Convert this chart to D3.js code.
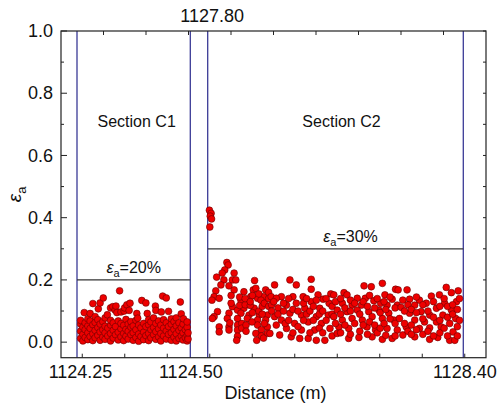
<!DOCTYPE html>
<html>
<head>
<meta charset="utf-8">
<script src="https://cdn.jsdelivr.net/npm/d3@7"></script>
<style>
  body { margin: 0; background: #fff; }
  svg text { font-family: Arial, "Liberation Sans", sans-serif; fill: #111; }
</style>
</head>
<body>
<div id="chart"></div>
<script>
// tick labels on the (broken) distance axis
const bottomLabels = [1124.25, 1124.50, 1128.40];
const topLabels = [1127.80];
const yLabels = [0, 0.2, 0.4, 0.6, 0.8, 1.0];
// section boundaries (m) and strain limits
const sections = [
  { name: 'Section C1', start: 1124.25, end: 1124.50, limit: 0.2, limitText: '=20%' },
  { name: 'Section C2', start: 1127.80, end: 1128.40, limit: 0.3, limitText: '=30%' }
];

// [distance (m), strain]
const c1Points = [
  [1124.258,0.012],[1124.258,0.035],[1124.258,0.058],[1124.258,0.070],
  [1124.263,0.004],[1124.263,0.025],[1124.263,0.048],
  [1124.268,0.015],[1124.268,0.040],[1124.268,0.062],[1124.266,0.095],
  [1124.274,0.008],[1124.274,0.030],[1124.274,0.052],[1124.274,0.075],
  [1124.279,0.018],[1124.279,0.044],[1124.279,0.068],[1124.279,0.092],
  [1124.285,0.005],[1124.285,0.027],[1124.285,0.056],[1124.285,0.124],
  [1124.290,0.014],[1124.290,0.038],[1124.290,0.063],[1124.290,0.082],
  [1124.296,0.022],[1124.296,0.047],[1124.296,0.072],[1124.297,0.107],
  [1124.301,0.006],[1124.301,0.033],[1124.301,0.058],[1124.301,0.126],
  [1124.307,0.016],[1124.307,0.040],[1124.307,0.066],[1124.308,0.142],
  [1124.312,0.009],[1124.312,0.030],[1124.312,0.051],[1124.312,0.078],
  [1124.318,0.020],[1124.318,0.045],[1124.317,0.088],
  [1124.324,0.004],[1124.324,0.028],[1124.324,0.055],[1124.324,0.070],[1124.324,0.110],
  [1124.330,0.013],[1124.330,0.038],[1124.330,0.062],[1124.329,0.114],
  [1124.335,0.024],[1124.335,0.050],[1124.334,0.103],[1124.336,0.116],
  [1124.341,0.007],[1124.341,0.032],[1124.341,0.068],[1124.338,0.095],
  [1124.344,0.165],
  [1124.347,0.017],[1124.347,0.043],[1124.347,0.060],[1124.347,0.097],
  [1124.353,0.005],[1124.353,0.028],[1124.353,0.054],[1124.354,0.100],
  [1124.358,0.019],[1124.358,0.041],[1124.358,0.073],[1124.355,0.110],
  [1124.363,0.010],[1124.363,0.035],[1124.363,0.058],[1124.360,0.120],
  [1124.369,0.024],[1124.369,0.048],[1124.369,0.066],[1124.365,0.102],
  [1124.374,0.006],[1124.374,0.030],[1124.374,0.052],[1124.367,0.125],
  [1124.380,0.015],[1124.380,0.040],[1124.380,0.070],
  [1124.386,0.003],[1124.386,0.026],[1124.386,0.055],[1124.382,0.092],
  [1124.391,0.018],[1124.391,0.046],[1124.384,0.077],[1124.393,0.134],
  [1124.397,0.008],[1124.397,0.032],[1124.397,0.060],[1124.402,0.126],
  [1124.402,0.021],[1124.402,0.050],[1124.405,0.092],
  [1124.408,0.005],[1124.408,0.028],[1124.408,0.056],[1124.408,0.072],
  [1124.413,0.014],[1124.413,0.040],[1124.413,0.065],[1124.423,0.116],
  [1124.419,0.024],[1124.419,0.047],[1124.419,0.078],
  [1124.424,0.009],[1124.424,0.034],[1124.424,0.060],[1124.424,0.102],
  [1124.430,0.017],[1124.430,0.043],[1124.430,0.068],
  [1124.435,0.004],[1124.435,0.028],[1124.435,0.055],[1124.436,0.097],
  [1124.439,0.148],[1124.447,0.142],
  [1124.441,0.020],[1124.441,0.045],[1124.441,0.072],
  [1124.447,0.010],[1124.447,0.036],[1124.447,0.062],
  [1124.452,0.025],[1124.452,0.050],[1124.452,0.099],
  [1124.458,0.006],[1124.458,0.030],[1124.458,0.058],[1124.458,0.075],
  [1124.464,0.016],[1124.464,0.041],[1124.464,0.066],
  [1124.469,0.004],[1124.469,0.027],[1124.469,0.052],[1124.469,0.078],
  [1124.475,0.012],[1124.475,0.038],[1124.475,0.062],
  [1124.480,0.020],[1124.480,0.046],[1124.478,0.129],
  [1124.484,0.007],[1124.484,0.030],[1124.484,0.058],[1124.480,0.091],
  [1124.489,0.014],[1124.489,0.040],[1124.485,0.075],
  [1124.493,0.004],[1124.493,0.022],[1124.493,0.048],[1124.493,0.065],
  [1124.495,0.010],[1124.495,0.030]
];

const c2Points = [
  [1127.804,0.424],[1127.808,0.414],[1127.806,0.405],[1127.809,0.396],[1127.805,0.370],
  [1127.845,0.256],[1127.848,0.248],[1127.840,0.232],[1127.862,0.222],[1127.834,0.222],
  [1127.821,0.209],[1127.838,0.200],[1127.858,0.200],[1127.866,0.200],[1127.910,0.198],
  [1127.831,0.184],[1127.850,0.181],[1127.862,0.168],[1127.819,0.165],[1127.885,0.162],
  [1127.907,0.168],[1127.913,0.173],[1127.936,0.168],[1127.815,0.146],[1127.827,0.141],
  [1127.901,0.146],[1127.917,0.141],[1127.931,0.146],[1127.878,0.135],[1127.893,0.130],
  [1127.925,0.135],[1127.810,0.135],[1127.858,0.114],[1127.870,0.103],[1127.885,0.109],
  [1127.909,0.109],[1127.823,0.098],[1127.815,0.082],[1127.850,0.093],[1127.878,0.093],
  [1127.897,0.087],[1127.921,0.087],[1127.940,0.087],[1127.846,0.076],[1127.870,0.076],
  [1127.893,0.076],[1127.917,0.071],[1127.936,0.071],[1127.811,0.076],[1127.827,0.049],
  [1127.850,0.049],[1127.870,0.055],[1127.917,0.055],[1127.940,0.049],[1127.827,0.033],
  [1127.850,0.039],[1127.870,0.039],[1127.870,0.019],[1127.868,0.006],[1127.913,0.028],
  [1127.915,0.006],[1127.940,0.028],
  [1127.855,0.125],[1127.855,0.150],[1127.875,0.118],[1127.875,0.145],[1127.888,0.120],
  [1127.888,0.140],[1127.900,0.118],[1127.900,0.130],[1127.905,0.095],[1127.905,0.150],
  [1127.920,0.100],[1127.920,0.155],[1127.928,0.115],[1127.928,0.090],[1127.933,0.125],
  [1127.933,0.060],[1127.943,0.115],[1127.943,0.140],[1127.943,0.160],[1127.852,0.062],
  [1127.880,0.060],[1127.880,0.045],[1127.890,0.055],[1127.890,0.035],[1127.904,0.065],
  [1127.926,0.040],[1127.926,0.020],[1127.931,0.013],
  [1127.993,0.200],[1128.008,0.184],[1128.043,0.202],[1128.043,0.170],[1127.957,0.184],
  [1128.024,0.146],[1128.000,0.146],[1127.973,0.146],[1128.059,0.152],[1128.089,0.155],
  [1128.071,0.138],[1127.949,0.146],[1127.961,0.141],[1128.043,0.130],[1128.008,0.125],
  [1127.985,0.119],[1128.028,0.109],[1128.085,0.125],[1128.063,0.109],[1127.993,0.093],
  [1128.020,0.087],[1127.957,0.082],[1127.973,0.071],[1128.055,0.082],[1128.083,0.087],
  [1128.036,0.065],[1128.004,0.060],[1128.067,0.060],[1127.961,0.055],[1127.985,0.044],
  [1128.020,0.039],[1128.051,0.039],[1128.087,0.044],[1127.969,0.023],[1127.996,0.017],
  [1128.016,0.012],[1128.036,0.012],[1128.055,0.006],[1128.075,0.006],[1127.946,0.028],
  [1127.950,0.120],[1127.950,0.100],[1127.955,0.130],[1127.965,0.110],[1127.965,0.090],
  [1127.978,0.125],[1127.978,0.100],[1127.982,0.060],[1127.990,0.140],[1127.990,0.070],
  [1128.000,0.105],[1128.000,0.030],[1128.012,0.100],[1128.012,0.050],[1128.025,0.125],
  [1128.025,0.070],[1128.032,0.140],[1128.032,0.090],[1128.040,0.100],[1128.040,0.030],
  [1128.048,0.115],[1128.048,0.070],[1128.055,0.135],[1128.062,0.090],[1128.062,0.045],
  [1128.070,0.100],[1128.070,0.030],[1128.078,0.140],[1128.078,0.070],[1128.092,0.115],
  [1128.092,0.090],[1128.092,0.020],
  [1128.167,0.181],[1128.184,0.178],[1128.210,0.189],[1128.241,0.170],[1128.216,0.152],
  [1128.120,0.159],[1128.127,0.152],[1128.096,0.152],[1128.151,0.141],[1128.170,0.141],
  [1128.190,0.133],[1128.233,0.138],[1128.116,0.125],[1128.139,0.119],[1128.161,0.119],
  [1128.206,0.125],[1128.221,0.119],[1128.245,0.119],[1128.104,0.103],[1128.127,0.098],
  [1128.151,0.103],[1128.178,0.098],[1128.202,0.103],[1128.225,0.093],[1128.096,0.082],
  [1128.116,0.071],[1128.139,0.076],[1128.163,0.071],[1128.186,0.082],[1128.210,0.076],
  [1128.237,0.071],[1128.108,0.049],[1128.131,0.044],[1128.174,0.049],[1128.194,0.039],
  [1128.221,0.044],[1128.245,0.039],[1128.104,0.028],[1128.131,0.012],[1128.155,0.015],
  [1128.186,0.017],[1128.210,0.009],[1128.233,0.012],
  [1128.100,0.130],[1128.100,0.060],[1128.112,0.140],[1128.112,0.090],[1128.112,0.030],
  [1128.122,0.110],[1128.122,0.055],[1128.135,0.135],[1128.135,0.100],[1128.135,0.025],
  [1128.145,0.125],[1128.145,0.060],[1128.157,0.090],[1128.157,0.035],[1128.165,0.130],
  [1128.165,0.055],[1128.175,0.115],[1128.175,0.025],[1128.180,0.150],[1128.180,0.065],
  [1128.192,0.110],[1128.192,0.055],[1128.198,0.140],[1128.198,0.030],[1128.205,0.095],
  [1128.205,0.045],[1128.214,0.130],[1128.214,0.060],[1128.218,0.105],[1128.218,0.022],
  [1128.228,0.145],[1128.228,0.075],[1128.240,0.110],[1128.240,0.060],[1128.240,0.020],
  [1128.360,0.176],[1128.388,0.165],[1128.268,0.168],[1128.247,0.168],[1128.372,0.159],
  [1128.344,0.152],[1128.325,0.148],[1128.297,0.135],[1128.274,0.138],[1128.258,0.135],
  [1128.384,0.130],[1128.356,0.125],[1128.313,0.125],[1128.286,0.119],[1128.254,0.112],
  [1128.337,0.109],[1128.372,0.103],[1128.301,0.098],[1128.274,0.093],[1128.321,0.087],
  [1128.352,0.087],[1128.382,0.076],[1128.250,0.076],[1128.286,0.071],[1128.309,0.065],
  [1128.337,0.065],[1128.368,0.060],[1128.266,0.049],[1128.297,0.044],[1128.321,0.046],
  [1128.348,0.049],[1128.376,0.033],[1128.258,0.023],[1128.286,0.017],[1128.321,0.009],
  [1128.340,0.015],[1128.368,0.006],[1128.380,0.006],
  [1128.262,0.100],[1128.262,0.060],[1128.270,0.120],[1128.270,0.035],[1128.278,0.105],
  [1128.278,0.055],[1128.278,0.025],[1128.290,0.145],[1128.290,0.095],[1128.290,0.040],
  [1128.305,0.120],[1128.305,0.075],[1128.305,0.025],[1128.317,0.100],[1128.317,0.035],
  [1128.330,0.130],[1128.330,0.080],[1128.330,0.020],[1128.345,0.115],[1128.345,0.070],
  [1128.345,0.030],[1128.355,0.140],[1128.355,0.045],[1128.363,0.115],[1128.363,0.080],
  [1128.363,0.020],[1128.375,0.120],[1128.375,0.090],[1128.386,0.105],[1128.386,0.050],
  [1128.386,0.020],[1128.391,0.140],[1128.391,0.070]
];

const width = 497, height = 407;
const plotLeft = 61, plotRight = 486, plotTop = 31, plotBottom = 357.7;

const svg = d3.select('#chart').append('svg')
  .attr('width', width)
  .attr('height', height);

// broken axis: two sections sharing one frame
const x = d3.scaleLinear()
  .domain([1124.25, 1124.50, 1127.80, 1128.40])
  .range([77, 190.3, 207.7, 463.3]);
const y = d3.scaleLinear().domain([-0.05, 1.0]).range([plotBottom, plotTop]);
// plain frame scale only used for the unlabeled minor ticks
const frame = d3.scaleLinear().domain([0, 20]).range([plotLeft, plotRight]);

// minor ticks
const g = svg.append('g').attr('stroke', '#222').attr('stroke-width', 1);
d3.range(1, 20, 2).forEach(k => {
  g.append('line').attr('x1', frame(k)).attr('x2', frame(k)).attr('y1', plotBottom).attr('y2', plotBottom - 4);
});
d3.range(2, 20, 2).forEach(k => {
  g.append('line').attr('x1', frame(k)).attr('x2', frame(k)).attr('y1', plotTop).attr('y2', plotTop + 4);
});
d3.range(0, 1.01, 0.1).forEach(v => {
  const major = Math.round(v * 10) % 2 === 0;
  g.append('line').attr('x1', plotLeft).attr('x2', plotLeft + (major ? 6 : 3)).attr('y1', y(v)).attr('y2', y(v));
  g.append('line').attr('x1', plotRight).attr('x2', plotRight - 3).attr('y1', y(v)).attr('y2', y(v));
});

// section boundaries
sections.forEach(s => {
  [s.start, s.end].forEach(d => {
    svg.append('line')
      .attr('x1', x(d)).attr('x2', x(d))
      .attr('y1', plotTop).attr('y2', plotBottom)
      .attr('stroke', '#3a3a96').attr('stroke-width', 1.3);
  });
  svg.append('line')
    .attr('x1', x(s.start)).attr('x2', x(s.end))
    .attr('y1', y(s.limit)).attr('y2', y(s.limit))
    .attr('stroke', '#333').attr('stroke-width', 1.2);
});

// points
const dots = svg.append('g');
[c1Points, c2Points].forEach(pts => {
  dots.selectAll(null)
    .data(pts)
    .enter()
    .append('circle')
    .attr('cx', d => x(d[0]))
    .attr('cy', d => y(d[1]))
    .attr('r', 3.4)
    .attr('fill', '#ee0000')
    .attr('stroke', '#6a0000')
    .attr('stroke-width', 0.6);
});

// frame
svg.append('rect')
  .attr('x', plotLeft).attr('y', plotTop)
  .attr('width', plotRight - plotLeft).attr('height', plotBottom - plotTop)
  .attr('fill', 'none').attr('stroke', '#222').attr('stroke-width', 1.2);

// labeled axes
const fmt2 = d3.format('.2f');
const xb = svg.append('g').attr('transform', `translate(0,${plotBottom})`)
  .call(d3.axisBottom(x).tickValues(bottomLabels).tickSize(0).tickPadding(7.5).tickFormat(fmt2));
const xt = svg.append('g').attr('transform', `translate(0,${plotTop})`)
  .call(d3.axisTop(x).tickValues(topLabels).tickSize(0).tickPadding(9).tickFormat(fmt2));
const ya = svg.append('g').attr('transform', `translate(${plotLeft},0)`)
  .call(d3.axisLeft(y).tickValues(yLabels).tickSize(0).tickPadding(8).tickFormat(d3.format('.1f')));
[xb, xt, ya].forEach(a => {
  a.select('.domain').remove();
  a.selectAll('text').attr('font-size', 18).attr('font-family', 'Arial, "Liberation Sans", sans-serif').attr('fill', '#111');
});
// nudge the labels that sit just inside a section edge
xb.selectAll('text').attr('dx', (d, i) => i === 0 ? 3 : (i === 2 ? 1 : 0));
xt.selectAll('text').attr('dx', 4);

// section names and limit labels
const nameShift = [3, 6], limitShift = [0, 15];
sections.forEach((s, i) => {
  const cx = (x(s.start) + x(s.end)) / 2;
  svg.append('text')
    .attr('x', cx + nameShift[i]).attr('y', 127)
    .attr('text-anchor', 'middle')
    .attr('font-size', 16)
    .text(s.name);
  const t = svg.append('text')
    .attr('x', cx + limitShift[i]).attr('y', y(s.limit) - 7)
    .attr('text-anchor', 'middle')
    .attr('font-size', 16);
  t.append('tspan').attr('font-style', 'italic').text('ε');
  t.append('tspan').attr('font-size', 11).attr('dy', 4).text('a');
  t.append('tspan').attr('dy', -4).text(s.limitText);
});

// axis titles
svg.append('text')
  .attr('x', (plotLeft + plotRight) / 2 + 2).attr('y', 399)
  .attr('text-anchor', 'middle')
  .attr('font-size', 18)
  .text('Distance (m)');

const yt = svg.append('text')
  .attr('transform', `translate(21,${(plotTop + plotBottom) / 2}) rotate(-90)`)
  .attr('text-anchor', 'middle')
  .attr('font-size', 19);
yt.append('tspan').attr('font-style', 'italic').text('ε');
yt.append('tspan').attr('font-size', 13).attr('dy', 5).text('a');
</script>
</body>
</html>
